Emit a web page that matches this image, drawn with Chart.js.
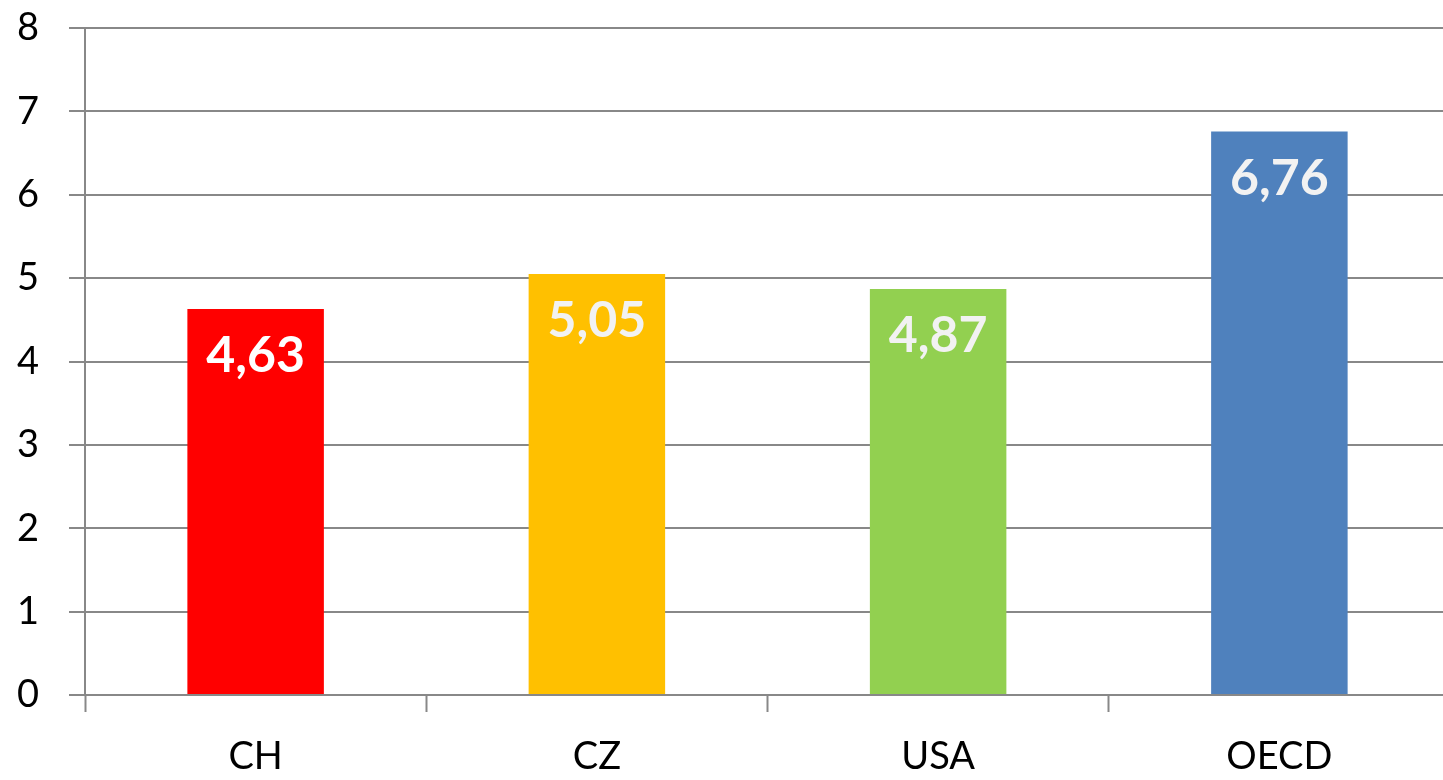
<!DOCTYPE html>
<html>
<head>
<meta charset="utf-8">
<script src="https://cdn.jsdelivr.net/npm/chart.js@4"></script>
<style>
  html, body { margin: 0; padding: 0; background: #fff; overflow: hidden; }
  #wrap { width: 1450px; height: 780px; }
</style>
</head>
<body>
<div id="wrap"><canvas id="myChart"></canvas></div>
<script>
const countries = ['CH', 'CZ', 'USA', 'OECD'];
const values = [4.63, 5.05, 4.87, 6.76];
const barColors = ['#FF0000', '#FFC000', '#92D050', '#4F81BD'];
const labelColors = ['#FFFFFF', '#F2F2F2', '#F2F2F2', '#F2F2F2'];

const FONT = 'Lato, Calibri, sans-serif';

// draws the value in each bar, just under its top
const barLabels = {
    id: 'barLabels',
    afterDatasetsDraw(chart){
        const ctx = chart.ctx;
        const meta = chart.getDatasetMeta(0);
        ctx.save();
        ctx.font = 'bold 50px ' + FONT;
        ctx.textAlign = 'center';
        ctx.textBaseline = 'middle';
        meta.data.forEach((bar, i) => {
            ctx.fillStyle = labelColors[i];
            const txt = values[i].toFixed(2).replace('.', ',');
            ctx.fillText(txt, bar.x, bar.y + 47);
        });
        ctx.restore();
    }
};

const ctx = document.getElementById('myChart').getContext('2d');
const myChart = new Chart(ctx, {
    type: 'bar',
    data: {
        labels: countries,
        datasets: [{
            data: values,
            backgroundColor: barColors,
            barPercentage: 0.4,
            categoryPercentage: 1
        }]
    },
    options: {
        responsive: true,
        maintainAspectRatio: false,
        animation: false,
        layout: { padding: { top: 28, right: 0, left: 0, bottom: 0 } },
        plugins: {
            legend: { display: false },
            tooltip: { enabled: false }
        },
        scales: {
            x: {
                grid: {
                    drawOnChartArea: false,
                    drawTicks: true,
                    tickLength: 17,
                    tickWidth: 2,
                    color: '#888888'
                },
                border: { display: true, color: '#888888', width: 2 },
                ticks: {
                    color: '#000',
                    padding: 22,
                    font: { family: FONT, size: 38 }
                },
                afterFit(scale){
                    scale.height = 85;
                    scale.paddingLeft = 0;
                    scale.paddingRight = 0;
                }
            },
            y: {
                min: 0,
                max: 8,
                grid: {
                    color: '#888888',
                    lineWidth: 2,
                    tickLength: 16
                },
                border: { display: true, color: '#888888', width: 2 },
                ticks: {
                    stepSize: 1,
                    color: '#000',
                    padding: 30,
                    font: { family: FONT, size: 38 }
                },
                afterFit(scale){
                    scale.width = 85;
                    scale.paddingTop = 0;
                    scale.paddingBottom = 0;
                }
            }
        }
    },
    plugins: [barLabels]
});
</script>
</body>
</html>
